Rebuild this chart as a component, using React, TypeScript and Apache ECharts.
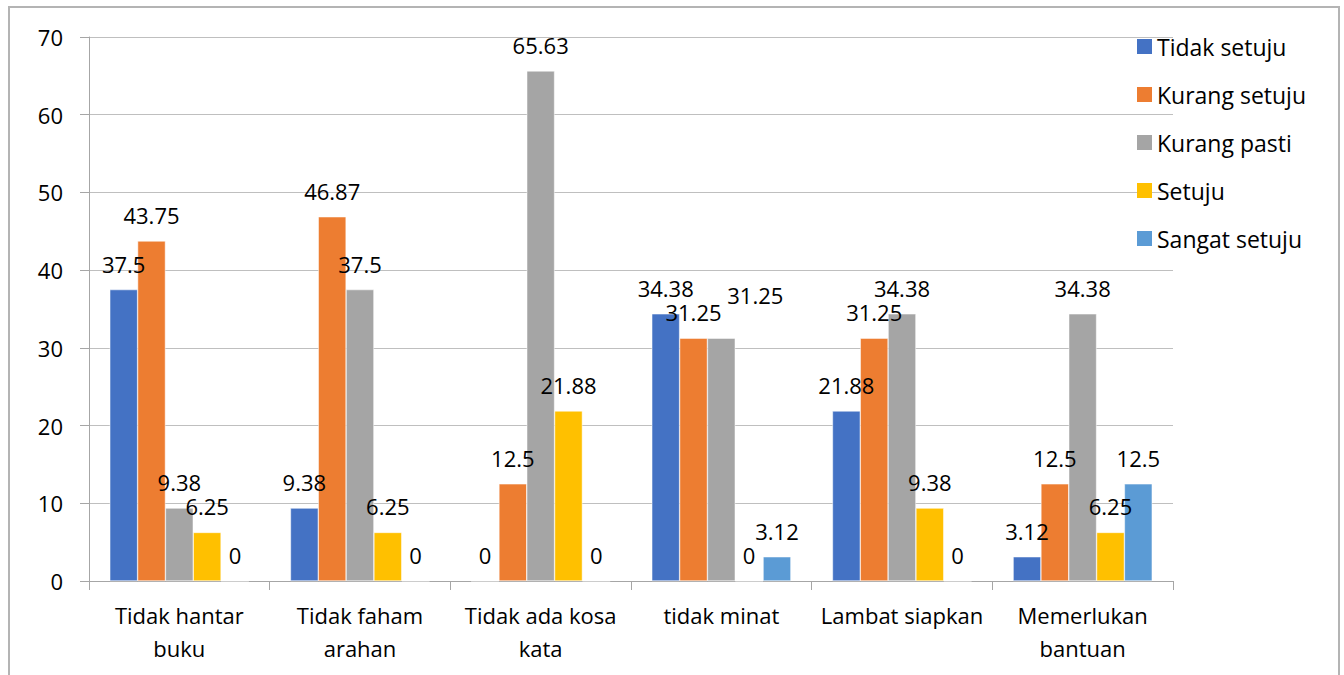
import React, { useEffect, useRef } from "react";
import * as echarts from "echarts";

const categories = [
  "Tidak hantar\nbuku",
  "Tidak faham\narahan",
  "Tidak ada kosa\nkata",
  "tidak minat",
  "Lambat siapkan",
  "Memerlukan\nbantuan",
];
const seriesNames = ["Tidak setuju", "Kurang setuju", "Kurang pasti", "Setuju", "Sangat setuju"];
const tidakSetuju = [37.5, 9.38, 0, 34.38, 21.88, 3.12];
const kurangSetuju = [43.75, 46.87, 12.5, 31.25, 31.25, 12.5];
const kurangPasti = [9.38, 37.5, 65.63, 31.25, 34.38, 34.38];
const setuju = [6.25, 6.25, 21.88, 0, 9.38, 6.25];
const sangatSetuju = [0, 0, 0, 3.12, 0, 12.5];
const colors = ["#4472C4", "#ED7D31", "#A5A5A5", "#FFC000", "#5B9BD5"];

// label nudges (series index, category index) -> offset, as in the original
const labelNudges: { s: number; c: number; offset: [number, number] }[] = [
  { s: 2, c: 3, offset: [34, -17] },
];

const FONT = "'Open Sans', 'Noto Sans', sans-serif";

export default function App() {
  const ref = useRef<HTMLDivElement>(null);
  useEffect(() => {
    const chart = echarts.init(ref.current!, null, { renderer: "svg" });
    const data = [tidakSetuju, kurangSetuju, kurangPasti, setuju, sangatSetuju];
    chart.setOption({
      animation: false,
      color: colors,
      textStyle: { fontFamily: FONT },
      graphic: [
        {
          type: "rect",
          shape: { x: 9, y: 7, width: 1330, height: 720 },
          style: { fill: "none", stroke: "#b4b4b4", lineWidth: 2 },
          silent: true,
        },
      ],
      grid: { left: 89, right: 171, top: 37, bottom: 94, containLabel: false },
      legend: {
        orient: "vertical",
        left: 1132,
        top: 30,
        padding: 5,
        itemWidth: 15,
        itemHeight: 15,
        itemGap: 25,
        icon: "rect",
        itemStyle: { borderWidth: 0 },
        textStyle: { fontSize: 23, color: "#000", fontFamily: FONT },
        data: seriesNames,
      },
      xAxis: {
        type: "category",
        data: categories,
        axisLine: { lineStyle: { color: "#a6a6a6", width: 1 } },
        axisTick: { show: true, length: 9, lineStyle: { color: "#a6a6a6" } },
        axisLabel: { fontSize: 22, color: "#000", lineHeight: 33, margin: 17, fontFamily: FONT, interval: 0 },
      },
      yAxis: {
        type: "value",
        min: 0,
        max: 70,
        interval: 10,
        axisLine: { show: true, lineStyle: { color: "#a6a6a6", width: 1 } },
        axisTick: { show: true, length: 9, lineStyle: { color: "#a6a6a6" } },
        splitLine: { lineStyle: { color: "#bfbfbf", width: 1 } },
        axisLabel: { fontSize: 22, color: "#000", margin: 26, fontFamily: FONT },
      },
      series: seriesNames.map((name, i) => ({
        name,
        type: "bar",
        data: data[i].map((v, c) => {
          const n = labelNudges.find((x) => x.s === i && x.c === c);
          return n ? { value: v, label: { offset: n.offset } } : v;
        }),
        barGap: "0%",
        barCategoryGap: "23%",
        itemStyle: { color: colors[i], borderColor: "#fff", borderWidth: 0.5 },
        label: {
          show: true,
          position: "top",
          distance: 15,
          fontSize: 22,
          color: "#000",
          fontFamily: FONT,
        },
      })),
    });
    return () => chart.dispose();
  }, []);
  return (
    <div
      ref={ref}
      style={{ position: "fixed", left: 0, top: 0, width: 1344, height: 675, background: "#fff" }}
    />
  );
}
